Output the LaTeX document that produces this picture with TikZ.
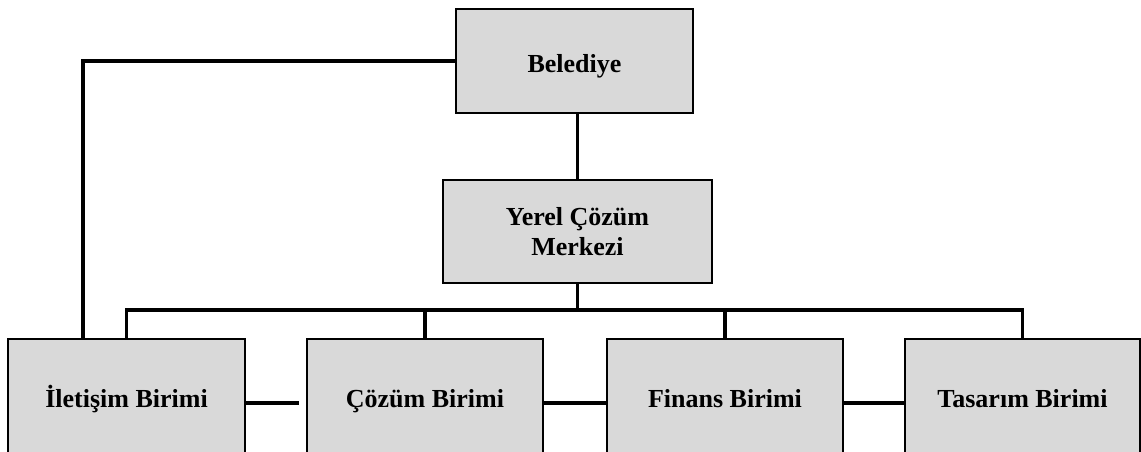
\documentclass[tikz,border=0pt]{standalone}
\usepackage{fontspec}
\setmainfont{Liberation Serif}
\definecolor{boxgray}{HTML}{D9D9D9}
% lower the visible text without changing its box
\newcommand{\dropby}[2]{\raisebox{-#1}[\height][\depth]{#2}}
\begin{document}
\begin{tikzpicture}[x=1pt,y=-1pt,
  unit/.style={draw=black,fill=boxgray,line width=1.6pt,inner sep=0pt,
    font=\bfseries\fontsize{26}{30}\selectfont},
  link/.style={line width=3.3pt}]
\useasboundingbox (0,0) rectangle (1141,452);
\clip (0,0) rectangle (1141,452);

% top levels
\node[unit,minimum width=237pt,minimum height=104pt] (bel) at (574.5,61) {\dropby{5pt}{Belediye}};
\node[unit,minimum width=269pt,minimum height=103pt] (yerel) at (577.5,231.5)
  {\dropby{3pt}{\begin{tabular}{@{}c@{}}Yerel Çözüm\\Merkezi\end{tabular}}};

% units
\node[unit,minimum width=237pt,minimum height=120pt] (ilet) at (126.5,399) {İletişim Birimi};
\node[unit,minimum width=236pt,minimum height=120pt] (coz) at (425,399) {\dropby{2pt}{Çözüm Birimi}};
\node[unit,minimum width=236pt,minimum height=120pt] (fin) at (725,399) {Finans Birimi};
\node[unit,minimum width=235pt,minimum height=120pt] (tas) at (1022.5,399) {Tasarım Birimi};

% helper points
\coordinate (bus) at (0,310);
\coordinate (elb) at (83,339);
\coordinate (icend) at (299,403);

% connectors
\draw[link] (yerel.north) -- (yerel.north |- bel.south);
\draw[link] (yerel.south) -- (yerel.south |- bus);
\draw[link] (ilet.north) |- (tas.north |- bus) -- (tas.north);
\draw[link] (coz.north) -- (coz.north |- bus);
\draw[link] (fin.north) -- (fin.north |- bus);
\draw[link] (bel.west) -| (elb);
\draw[link] (ilet.east |- icend) -- (icend);
\draw[link] (coz.east |- icend) -- (fin.west |- icend);
\draw[link] (fin.east |- icend) -- (tas.west |- icend);
\end{tikzpicture}
\end{document}
